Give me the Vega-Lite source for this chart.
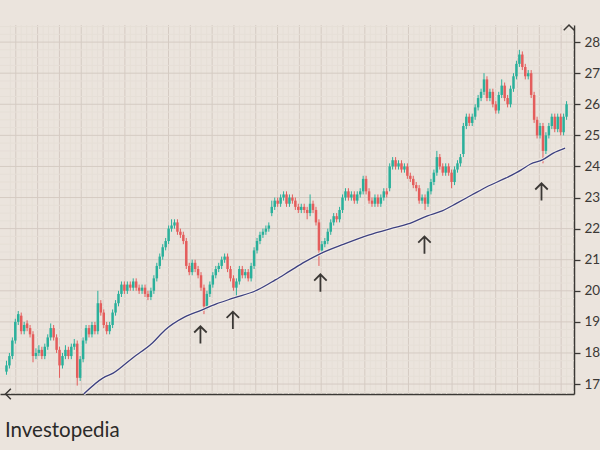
{
  "$schema": "https://vega.github.io/schema/vega-lite/v6.json",
  "width": 574,
  "height": 369,
  "autosize": "none",
  "padding": {"left": 0, "top": 25, "right": 26, "bottom": 56},
  "background": "#ebe4dd",
  "config": {
    "view": {"stroke": null},
    "axisX": {"labels": false, "ticks": false, "grid": false, "domainColor": "#3b3835", "domainWidth": 1.5},
    "axisY": {"grid": false, "domainColor": "#3b3835", "domainWidth": 1.5, "tickColor": "#3b3835", "tickWidth": 1.3, "tickSize": 6, "labelFont": "Lato", "labelFontSize": 13.5, "labelColor": "#3b3835", "labelPadding": 4}
  },
  "datasets": {
    "vgrid": [
      {"d":1.317,"major":false},{"d":3.167,"major":true},{"d":5.017,"major":false},{"d":6.867,"major":false},{"d":8.717,"major":false},{"d":10.567,"major":true},{"d":12.417,"major":false},{"d":14.267,"major":false},{"d":16.117,"major":false},{"d":17.967,"major":true},{"d":19.817,"major":false},{"d":21.667,"major":false},{"d":23.517,"major":false},{"d":25.367,"major":true},{"d":27.217,"major":false},{"d":29.067,"major":false},{"d":30.917,"major":false},{"d":32.767,"major":true},{"d":34.617,"major":false},{"d":36.467,"major":false},{"d":38.317,"major":false},{"d":40.167,"major":true},{"d":42.017,"major":false},{"d":43.867,"major":false},{"d":45.717,"major":false},{"d":47.567,"major":true},{"d":49.417,"major":false},{"d":51.267,"major":false},{"d":53.117,"major":false},{"d":54.967,"major":true},{"d":56.817,"major":false},{"d":58.667,"major":false},{"d":60.517,"major":false},{"d":62.367,"major":true},{"d":64.217,"major":false},{"d":66.067,"major":false},{"d":67.917,"major":false},{"d":69.767,"major":true},{"d":71.617,"major":false},{"d":73.467,"major":false},{"d":75.317,"major":false},{"d":77.167,"major":true},{"d":79.017,"major":false},{"d":80.867,"major":false},{"d":82.717,"major":false},{"d":84.567,"major":true},{"d":86.417,"major":false},{"d":88.267,"major":false},{"d":90.117,"major":false},{"d":91.967,"major":true},{"d":93.817,"major":false},{"d":95.667,"major":false},{"d":97.517,"major":false},{"d":99.367,"major":true},{"d":101.217,"major":false},{"d":103.067,"major":false},{"d":104.917,"major":false},{"d":106.767,"major":true},{"d":108.617,"major":false},{"d":110.467,"major":false},{"d":112.317,"major":false},{"d":114.167,"major":true},{"d":116.017,"major":false},{"d":117.867,"major":false},{"d":119.717,"major":false},{"d":121.567,"major":true},{"d":123.417,"major":false},{"d":125.267,"major":false},{"d":127.117,"major":false},{"d":128.967,"major":true},{"d":130.817,"major":false},{"d":132.667,"major":false},{"d":134.517,"major":false},{"d":136.367,"major":true},{"d":138.217,"major":false},{"d":140.067,"major":false},{"d":141.917,"major":false},{"d":143.767,"major":true},{"d":145.617,"major":false},{"d":147.467,"major":false},{"d":149.317,"major":false},{"d":151.167,"major":true},{"d":153.017,"major":false},{"d":154.867,"major":false},{"d":156.717,"major":false},{"d":158.567,"major":true},{"d":160.417,"major":false},{"d":162.267,"major":false},{"d":164.117,"major":false},{"d":165.967,"major":true},{"d":167.817,"major":false},{"d":169.667,"major":false},{"d":171.517,"major":false},{"d":173.367,"major":true},{"d":175.217,"major":false},{"d":177.067,"major":false},{"d":178.917,"major":false},{"d":180.767,"major":true},{"d":182.617,"major":false},{"d":184.467,"major":false},{"d":186.317,"major":false},{"d":188.167,"major":true},{"d":190.017,"major":false}
    ],
    "hgrid": [
      {"p":16.75,"major":false},{"p":17,"major":true},{"p":17.25,"major":false},{"p":17.5,"major":false},{"p":17.75,"major":false},{"p":18,"major":true},{"p":18.25,"major":false},{"p":18.5,"major":false},{"p":18.75,"major":false},{"p":19,"major":true},{"p":19.25,"major":false},{"p":19.5,"major":false},{"p":19.75,"major":false},{"p":20,"major":true},{"p":20.25,"major":false},{"p":20.5,"major":false},{"p":20.75,"major":false},{"p":21,"major":true},{"p":21.25,"major":false},{"p":21.5,"major":false},{"p":21.75,"major":false},{"p":22,"major":true},{"p":22.25,"major":false},{"p":22.5,"major":false},{"p":22.75,"major":false},{"p":23,"major":true},{"p":23.25,"major":false},{"p":23.5,"major":false},{"p":23.75,"major":false},{"p":24,"major":true},{"p":24.25,"major":false},{"p":24.5,"major":false},{"p":24.75,"major":false},{"p":25,"major":true},{"p":25.25,"major":false},{"p":25.5,"major":false},{"p":25.75,"major":false},{"p":26,"major":true},{"p":26.25,"major":false},{"p":26.5,"major":false},{"p":26.75,"major":false},{"p":27,"major":true},{"p":27.25,"major":false},{"p":27.5,"major":false},{"p":27.75,"major":false},{"p":28,"major":true},{"p":28.25,"major":false},{"p":28.5,"major":false}
    ],
    "candles": [
      {"d":0,"o":17.4,"h":17.75,"l":17.3,"c":17.6},{"d":1,"o":17.6,"h":18.0,"l":17.5,"c":17.9},{"d":2,"o":17.9,"h":18.5,"l":17.8,"c":18.4},{"d":3,"o":18.4,"h":19.1,"l":18.3,"c":19.0},{"d":4,"o":19.0,"h":19.35,"l":18.9,"c":19.25},
      {"d":5,"o":19.2,"h":19.3,"l":18.6,"c":18.7},{"d":6,"o":18.7,"h":19.0,"l":18.6,"c":18.9},{"d":7,"o":18.95,"h":19.05,"l":18.7,"c":18.8},{"d":8,"o":18.8,"h":18.9,"l":18.5,"c":18.6},{"d":9,"o":18.6,"h":18.7,"l":17.7,"c":17.9},
      {"d":10,"o":17.9,"h":18.15,"l":17.8,"c":18.0},{"d":11,"o":18.0,"h":18.25,"l":17.9,"c":18.1},{"d":12,"o":18.1,"h":18.2,"l":17.8,"c":17.9},{"d":13,"o":17.9,"h":18.3,"l":17.8,"c":18.2},{"d":14,"o":18.2,"h":18.6,"l":18.1,"c":18.5},
      {"d":15,"o":18.5,"h":18.95,"l":18.4,"c":18.8},{"d":16,"o":18.8,"h":18.9,"l":18.4,"c":18.5},{"d":17,"o":18.5,"h":18.6,"l":18.0,"c":18.1},{"d":18,"o":18.1,"h":18.2,"l":17.2,"c":17.6},{"d":19,"o":17.6,"h":18.0,"l":17.5,"c":17.9},
      {"d":20,"o":17.9,"h":18.25,"l":17.8,"c":18.1},{"d":21,"o":18.1,"h":18.2,"l":17.8,"c":17.9},{"d":22,"o":17.9,"h":18.3,"l":17.8,"c":18.2},{"d":23,"o":18.2,"h":18.45,"l":18.1,"c":18.3},{"d":24,"o":18.3,"h":18.4,"l":16.95,"c":17.2},
      {"d":25,"o":17.2,"h":17.9,"l":17.1,"c":17.8},{"d":26,"o":17.8,"h":18.5,"l":17.7,"c":18.4},{"d":27,"o":18.4,"h":18.9,"l":18.3,"c":18.8},{"d":28,"o":18.8,"h":18.9,"l":18.5,"c":18.6},{"d":29,"o":18.6,"h":19.0,"l":18.5,"c":18.9},
      {"d":30,"o":18.9,"h":19.0,"l":18.6,"c":18.7},{"d":31,"o":18.7,"h":20.0,"l":18.6,"c":19.6},{"d":32,"o":19.6,"h":19.7,"l":19.2,"c":19.3},{"d":33,"o":19.3,"h":19.4,"l":18.8,"c":18.9},{"d":34,"o":18.9,"h":19.0,"l":18.6,"c":18.7},
      {"d":35,"o":18.7,"h":19.0,"l":18.6,"c":18.9},{"d":36,"o":18.9,"h":19.4,"l":18.8,"c":19.3},{"d":37,"o":19.3,"h":19.7,"l":19.2,"c":19.6},{"d":38,"o":19.6,"h":20.0,"l":19.5,"c":19.9},{"d":39,"o":19.9,"h":20.3,"l":19.8,"c":20.2},
      {"d":40,"o":20.2,"h":20.3,"l":19.9,"c":20.0},{"d":41,"o":20.0,"h":20.3,"l":19.9,"c":20.2},{"d":42,"o":20.2,"h":20.3,"l":20.0,"c":20.1},{"d":43,"o":20.1,"h":20.4,"l":20.0,"c":20.3},{"d":44,"o":20.3,"h":20.4,"l":20.0,"c":20.1},
      {"d":45,"o":20.1,"h":20.2,"l":19.9,"c":20.0},{"d":46,"o":20.0,"h":20.2,"l":19.9,"c":20.1},{"d":47,"o":20.1,"h":20.2,"l":19.8,"c":19.9},{"d":48,"o":19.9,"h":20.0,"l":19.7,"c":19.8},{"d":49,"o":19.8,"h":20.1,"l":19.7,"c":20.0},
      {"d":50,"o":20.0,"h":20.5,"l":19.9,"c":20.4},{"d":51,"o":20.4,"h":20.9,"l":20.3,"c":20.8},{"d":52,"o":20.8,"h":21.2,"l":20.7,"c":21.1},{"d":53,"o":21.1,"h":21.5,"l":21.0,"c":21.4},{"d":54,"o":21.4,"h":21.7,"l":21.3,"c":21.6},
      {"d":55,"o":21.6,"h":22.1,"l":21.5,"c":22.0},{"d":56,"o":22.0,"h":22.3,"l":21.9,"c":22.1},{"d":57,"o":22.1,"h":22.3,"l":22.0,"c":22.2},{"d":58,"o":22.2,"h":22.3,"l":21.8,"c":21.9},{"d":59,"o":21.9,"h":22.0,"l":21.7,"c":21.8},
      {"d":60,"o":21.8,"h":21.9,"l":21.5,"c":21.6},{"d":61,"o":21.6,"h":21.7,"l":20.7,"c":20.8},{"d":62,"o":20.8,"h":20.9,"l":20.5,"c":20.6},{"d":63,"o":20.6,"h":21.0,"l":20.5,"c":20.9},{"d":64,"o":20.9,"h":21.0,"l":20.6,"c":20.7},
      {"d":65,"o":20.7,"h":20.8,"l":20.4,"c":20.5},{"d":66,"o":20.5,"h":20.6,"l":20.0,"c":20.1},{"d":67,"o":20.1,"h":20.2,"l":19.25,"c":19.5},{"d":68,"o":19.5,"h":20.0,"l":19.4,"c":19.9},{"d":69,"o":19.9,"h":20.3,"l":19.8,"c":20.2},
      {"d":70,"o":20.2,"h":20.6,"l":20.1,"c":20.5},{"d":71,"o":20.5,"h":20.8,"l":20.4,"c":20.7},{"d":72,"o":20.7,"h":20.9,"l":20.6,"c":20.8},{"d":73,"o":20.8,"h":21.1,"l":20.7,"c":21.0},{"d":74,"o":21.0,"h":21.2,"l":20.9,"c":21.1},
      {"d":75,"o":21.1,"h":21.2,"l":20.6,"c":20.7},{"d":76,"o":20.7,"h":20.8,"l":20.3,"c":20.4},{"d":77,"o":20.4,"h":20.5,"l":20.0,"c":20.1},{"d":78,"o":20.1,"h":20.4,"l":19.8,"c":20.3},{"d":79,"o":20.3,"h":20.8,"l":20.2,"c":20.7},
      {"d":80,"o":20.7,"h":20.8,"l":20.4,"c":20.5},{"d":81,"o":20.5,"h":20.7,"l":20.4,"c":20.6},{"d":82,"o":20.6,"h":20.7,"l":20.3,"c":20.4},{"d":83,"o":20.4,"h":20.9,"l":20.3,"c":20.8},{"d":84,"o":20.8,"h":21.4,"l":20.7,"c":21.3},
      {"d":85,"o":21.3,"h":21.7,"l":21.2,"c":21.6},{"d":86,"o":21.6,"h":21.9,"l":21.5,"c":21.8},{"d":87,"o":21.8,"h":22.0,"l":21.7,"c":21.9},{"d":88,"o":21.9,"h":22.1,"l":21.8,"c":22.0},{"d":89,"o":22.0,"h":22.2,"l":21.9,"c":22.1},
      {"d":90,"o":22.5,"h":22.9,"l":22.4,"c":22.7},{"d":91,"o":22.7,"h":23.0,"l":22.6,"c":22.9},{"d":92,"o":22.9,"h":23.0,"l":22.7,"c":22.8},{"d":93,"o":22.8,"h":23.1,"l":22.7,"c":23.0},{"d":94,"o":23.0,"h":23.2,"l":22.9,"c":23.1},
      {"d":95,"o":23.1,"h":23.2,"l":22.7,"c":22.8},{"d":96,"o":22.8,"h":23.1,"l":22.7,"c":23.0},{"d":97,"o":23.0,"h":23.1,"l":22.8,"c":22.9},{"d":98,"o":22.9,"h":23.0,"l":22.6,"c":22.7},{"d":99,"o":22.7,"h":22.8,"l":22.5,"c":22.6},
      {"d":100,"o":22.6,"h":22.8,"l":22.5,"c":22.7},{"d":101,"o":22.7,"h":22.8,"l":22.5,"c":22.6},{"d":102,"o":22.6,"h":22.7,"l":22.3,"c":22.5},{"d":103,"o":22.5,"h":23.1,"l":22.4,"c":22.8},{"d":104,"o":22.8,"h":22.9,"l":22.5,"c":22.6},
      {"d":105,"o":22.6,"h":22.7,"l":22.1,"c":22.2},{"d":106,"o":22.2,"h":22.3,"l":20.8,"c":21.3},{"d":107,"o":21.3,"h":21.6,"l":21.2,"c":21.5},{"d":108,"o":21.5,"h":21.7,"l":21.4,"c":21.6},{"d":109,"o":21.6,"h":22.0,"l":21.5,"c":21.9},
      {"d":110,"o":21.9,"h":22.3,"l":21.8,"c":22.2},{"d":111,"o":22.2,"h":22.5,"l":22.1,"c":22.4},{"d":112,"o":22.4,"h":22.5,"l":22.2,"c":22.3},{"d":113,"o":22.3,"h":22.7,"l":22.2,"c":22.6},{"d":114,"o":22.6,"h":23.1,"l":22.5,"c":23.0},
      {"d":115,"o":23.0,"h":23.3,"l":22.9,"c":23.2},{"d":116,"o":23.2,"h":23.3,"l":22.9,"c":23.0},{"d":117,"o":23.0,"h":23.2,"l":22.9,"c":23.1},{"d":118,"o":23.1,"h":23.2,"l":22.8,"c":22.9},{"d":119,"o":22.9,"h":23.2,"l":22.8,"c":23.1},
      {"d":120,"o":23.1,"h":23.3,"l":23.0,"c":23.2},{"d":121,"o":23.2,"h":23.7,"l":23.1,"c":23.6},{"d":122,"o":23.6,"h":23.7,"l":23.1,"c":23.2},{"d":123,"o":23.2,"h":23.3,"l":22.8,"c":22.9},{"d":124,"o":22.9,"h":23.0,"l":22.7,"c":22.8},
      {"d":125,"o":22.8,"h":23.1,"l":22.7,"c":23.0},{"d":126,"o":23.0,"h":23.1,"l":22.7,"c":22.8},{"d":127,"o":22.8,"h":23.1,"l":22.7,"c":23.0},{"d":128,"o":23.0,"h":23.3,"l":22.9,"c":23.2},{"d":129,"o":23.2,"h":23.3,"l":23.0,"c":23.1},
      {"d":130,"o":23.3,"h":24.1,"l":23.2,"c":24.0},{"d":131,"o":24.0,"h":24.3,"l":23.9,"c":24.2},{"d":132,"o":24.2,"h":24.3,"l":23.9,"c":24.0},{"d":133,"o":24.0,"h":24.2,"l":23.9,"c":24.1},{"d":134,"o":24.1,"h":24.2,"l":23.8,"c":23.9},
      {"d":135,"o":23.9,"h":24.1,"l":23.8,"c":24.0},{"d":136,"o":24.0,"h":24.1,"l":23.6,"c":23.7},{"d":137,"o":23.7,"h":23.8,"l":23.5,"c":23.6},{"d":138,"o":23.6,"h":23.7,"l":23.3,"c":23.4},{"d":139,"o":23.4,"h":23.5,"l":23.2,"c":23.3},
      {"d":140,"o":23.3,"h":23.4,"l":22.8,"c":22.9},{"d":141,"o":22.9,"h":23.1,"l":22.8,"c":23.0},{"d":142,"o":23.0,"h":23.1,"l":22.6,"c":22.8},{"d":143,"o":22.8,"h":23.3,"l":22.7,"c":23.2},{"d":144,"o":23.2,"h":23.6,"l":23.1,"c":23.5},
      {"d":145,"o":23.5,"h":23.9,"l":23.4,"c":23.8},{"d":146,"o":23.8,"h":24.5,"l":23.7,"c":24.3},{"d":147,"o":24.3,"h":24.4,"l":23.9,"c":24.0},{"d":148,"o":24.0,"h":24.1,"l":23.7,"c":23.8},{"d":149,"o":23.8,"h":24.1,"l":23.7,"c":24.0},
      {"d":150,"o":24.0,"h":24.1,"l":23.7,"c":23.8},{"d":151,"o":23.8,"h":23.9,"l":23.3,"c":23.5},{"d":152,"o":23.5,"h":24.0,"l":23.4,"c":23.9},{"d":153,"o":23.9,"h":24.2,"l":23.8,"c":24.1},{"d":154,"o":24.1,"h":24.4,"l":24.0,"c":24.3},
      {"d":155,"o":24.4,"h":25.4,"l":24.3,"c":25.3},{"d":156,"o":25.3,"h":25.7,"l":25.2,"c":25.6},{"d":157,"o":25.6,"h":25.7,"l":25.3,"c":25.4},{"d":158,"o":25.4,"h":25.7,"l":25.3,"c":25.6},{"d":159,"o":25.6,"h":26.0,"l":25.5,"c":25.9},
      {"d":160,"o":25.9,"h":26.3,"l":25.8,"c":26.2},{"d":161,"o":26.2,"h":26.5,"l":26.1,"c":26.4},{"d":162,"o":26.4,"h":27.0,"l":26.3,"c":26.8},{"d":163,"o":26.8,"h":26.9,"l":26.1,"c":26.2},{"d":164,"o":26.2,"h":26.5,"l":26.1,"c":26.4},
      {"d":165,"o":26.4,"h":26.5,"l":25.9,"c":26.0},{"d":166,"o":26.0,"h":26.1,"l":25.7,"c":25.8},{"d":167,"o":25.8,"h":26.4,"l":25.7,"c":26.3},{"d":168,"o":26.3,"h":26.8,"l":26.2,"c":26.6},{"d":169,"o":26.6,"h":26.7,"l":26.1,"c":26.2},
      {"d":170,"o":26.2,"h":26.3,"l":25.9,"c":26.0},{"d":171,"o":26.0,"h":26.6,"l":25.9,"c":26.5},{"d":172,"o":26.5,"h":27.0,"l":26.4,"c":26.9},{"d":173,"o":26.9,"h":27.4,"l":26.8,"c":27.3},{"d":174,"o":27.3,"h":27.75,"l":27.2,"c":27.6},
      {"d":175,"o":27.6,"h":27.7,"l":27.1,"c":27.2},{"d":176,"o":27.2,"h":27.3,"l":26.8,"c":26.9},{"d":177,"o":26.9,"h":27.1,"l":26.8,"c":27.0},{"d":178,"o":27.0,"h":27.1,"l":26.2,"c":26.3},{"d":179,"o":26.3,"h":26.4,"l":25.4,"c":25.5},
      {"d":180,"o":25.5,"h":25.6,"l":24.9,"c":25.0},{"d":181,"o":25.0,"h":25.4,"l":24.9,"c":25.3},{"d":182,"o":25.3,"h":25.4,"l":24.1,"c":24.5},{"d":183,"o":24.5,"h":25.1,"l":24.4,"c":25.0},{"d":184,"o":25.0,"h":25.4,"l":24.9,"c":25.3},
      {"d":185,"o":25.3,"h":25.7,"l":25.2,"c":25.6},{"d":186,"o":25.6,"h":25.7,"l":25.1,"c":25.2},{"d":187,"o":25.2,"h":25.7,"l":25.1,"c":25.6},{"d":188,"o":25.6,"h":25.7,"l":25.0,"c":25.1},{"d":189,"o":25.1,"h":25.7,"l":25.0,"c":25.6},
      {"d":190,"o":25.6,"h":26.1,"l":25.5,"c":26.0}
    ],
    "ma": [
      {"d":26.2,"m":16.68},{"d":32.8,"m":17.2},{"d":36.2,"m":17.35},{"d":42.8,"m":17.84},{"d":49.5,"m":18.32},{"d":53.8,"m":18.74},{"d":60.5,"m":19.16},{"d":66.2,"m":19.38},{"d":71.2,"m":19.58},{"d":77.2,"m":19.77},{"d":85.2,"m":20.03},{"d":91.2,"m":20.35},{"d":96.2,"m":20.64},{"d":101.2,"m":20.93},{"d":106.2,"m":21.18},{"d":114.5,"m":21.5},{"d":122.8,"m":21.79},{"d":131.2,"m":22.02},{"d":136.2,"m":22.15},{"d":142.8,"m":22.41},{"d":147.8,"m":22.57},{"d":152.8,"m":22.82},{"d":157.8,"m":23.08},{"d":162.8,"m":23.34},{"d":169.5,"m":23.63},{"d":174.5,"m":23.88},{"d":177.8,"m":24.08},{"d":181.8,"m":24.21},{"d":185.5,"m":24.43},{"d":189.5,"m":24.59}
    ],
    "arrows": [
      {"d":65.8,"p":18.58},{"d":76.8,"p":19.05},{"d":106.5,"p":20.25},{"d":141.8,"p":21.47},{"d":181.5,"p":23.18}
    ]
  },
  "layer": [
    {
      "data": {"name": "vgrid"},
      "mark": {"type": "rule", "strokeWidth": 1},
      "encoding": {
        "x": {"field": "d", "type": "quantitative", "title": null, "scale": {"domain": [-0.5, 190.83], "nice": false, "zero": false}},
        "color": {"condition": {"test": "datum.major", "value": "#d5cbc3"}, "value": "#e6dfd7"}
      }
    },
    {
      "data": {"name": "hgrid"},
      "mark": {"type": "rule", "strokeWidth": 1},
      "encoding": {
        "y": {"field": "p", "type": "quantitative", "title": null, "scale": {"domain": [16.68, 28.55], "nice": false, "zero": false}, "axis": {"orient": "right"}},
        "color": {"condition": {"test": "datum.major", "value": "#d5cbc3"}, "value": "#e6dfd7"}
      }
    },
    {
      "data": {"name": "candles"},
      "mark": {"type": "rule", "strokeWidth": 1},
      "encoding": {
        "x": {"field": "d", "type": "quantitative", "title": null},
        "y": {"field": "l", "type": "quantitative", "title": null, "axis": {"orient": "right"}},
        "y2": {"field": "h"},
        "color": {"condition": {"test": "datum.c >= datum.o", "value": "#2ab09b"}, "value": "#e45d5c"}
      }
    },
    {
      "data": {"name": "candles"},
      "mark": {"type": "bar", "width": 2.5},
      "encoding": {
        "x": {"field": "d", "type": "quantitative", "title": null},
        "y": {"field": "o", "type": "quantitative", "title": null, "axis": {"orient": "right"}},
        "y2": {"field": "c"},
        "color": {"condition": {"test": "datum.c >= datum.o", "value": "#2ab09b"}, "value": "#e45d5c"}
      }
    },
    {
      "data": {"name": "ma"},
      "mark": {"type": "line", "color": "#f3eee8", "strokeWidth": 3.2, "interpolate": "monotone"},
      "encoding": {
        "x": {"field": "d", "type": "quantitative", "title": null},
        "y": {"field": "m", "type": "quantitative", "title": null, "axis": {"orient": "right"}}
      }
    },
    {
      "data": {"name": "ma"},
      "mark": {"type": "line", "color": "#3d4080", "strokeWidth": 1.3, "interpolate": "monotone"},
      "encoding": {
        "x": {"field": "d", "type": "quantitative", "title": null},
        "y": {"field": "m", "type": "quantitative", "title": null, "axis": {"orient": "right"}}
      }
    },
    {
      "data": {"name": "arrows"},
      "mark": {"type": "point", "shape": "M0,-1L0,1M-0.72,-0.28L0,-1L0.72,-0.28", "size": 300, "filled": false, "stroke": "#3b3835", "strokeWidth": 1.8, "opacity": 1},
      "encoding": {
        "x": {"field": "d", "type": "quantitative", "title": null},
        "y": {"field": "p", "type": "quantitative", "title": null, "axis": {"orient": "right"}}
      }
    },
    {
      "data": {"values": [{"d": 190.83, "p": 28.55}]},
      "mark": {"type": "point", "shape": "M-1,1L0,0L1,1", "size": 110, "filled": false, "stroke": "#3b3835", "strokeWidth": 1.5, "opacity": 1},
      "encoding": {
        "x": {"field": "d", "type": "quantitative", "title": null},
        "y": {"field": "p", "type": "quantitative", "title": null, "axis": {"orient": "right"}}
      }
    },
    {
      "data": {"values": [{"d": -0.3, "p": 16.68}]},
      "mark": {"type": "point", "shape": "M1,-1L0,0L1,1", "size": 110, "filled": false, "stroke": "#3b3835", "strokeWidth": 1.5, "opacity": 1},
      "encoding": {
        "x": {"field": "d", "type": "quantitative", "title": null},
        "y": {"field": "p", "type": "quantitative", "title": null, "axis": {"orient": "right"}}
      }
    },
    {
      "data": {"values": [{"d": -0.5, "p": 15.3, "label": "Investopedia"}]},
      "mark": {"type": "text", "align": "left", "baseline": "alphabetic", "font": "Lato", "fontSize": 20.5, "color": "#2b2a29"},
      "encoding": {
        "x": {"field": "d", "type": "quantitative", "title": null},
        "y": {"field": "p", "type": "quantitative", "title": null, "axis": {"orient": "right"}},
        "text": {"field": "label"}
      }
    }
  ]
}
